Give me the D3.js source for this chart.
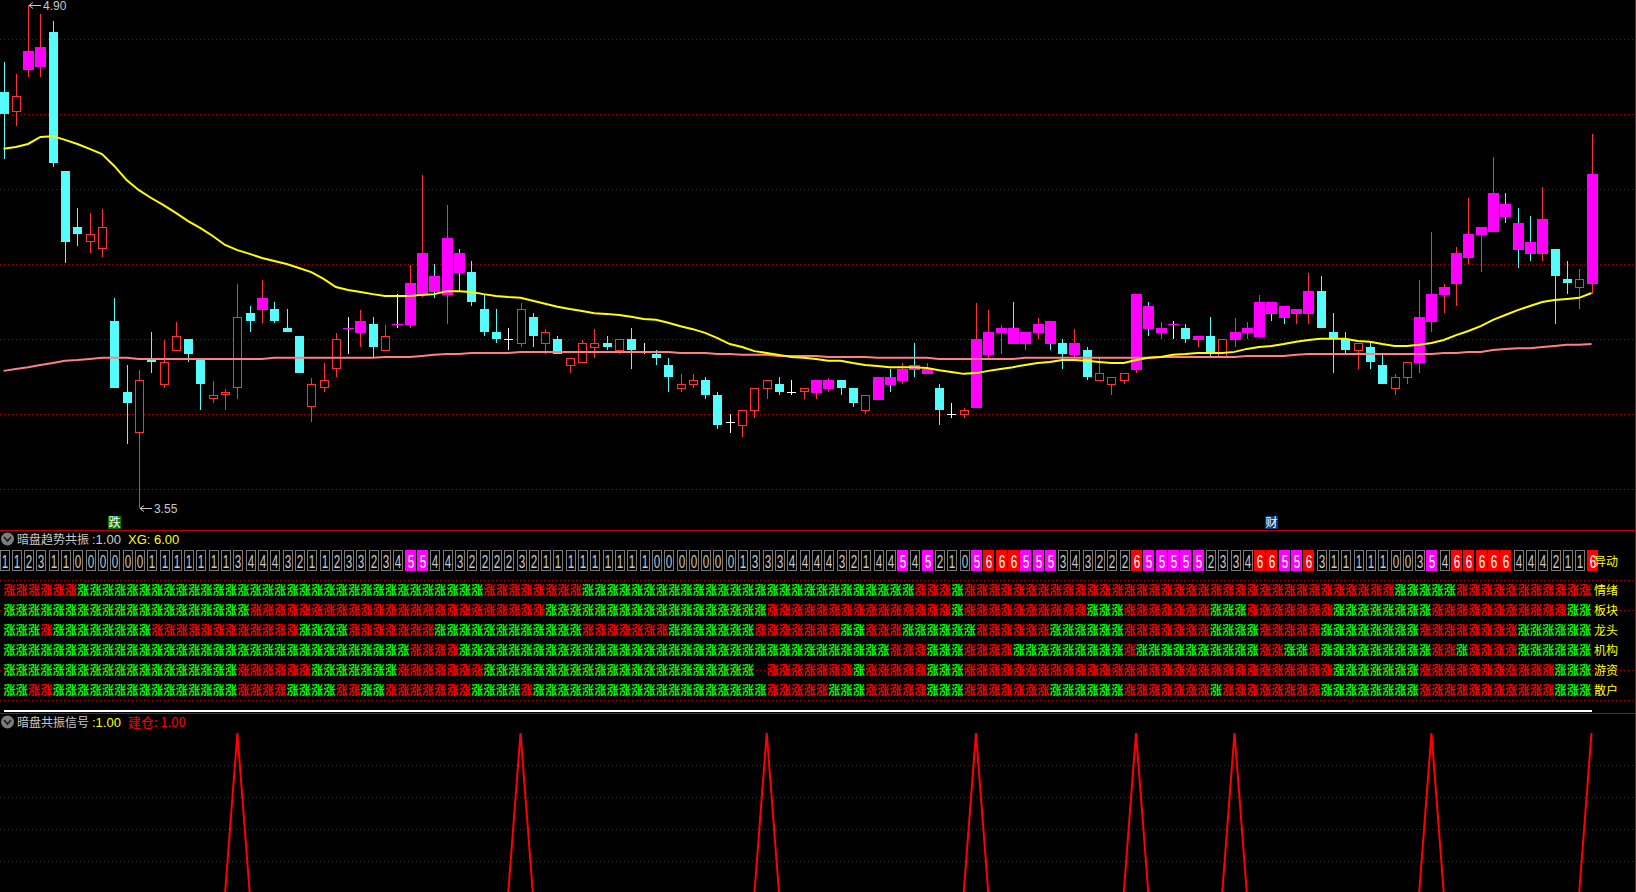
<!DOCTYPE html>
<html>
<head>
<meta charset="utf-8">
<script src="https://cdn.jsdelivr.net/npm/d3@7"></script>
<style>
html, body { margin: 0; padding: 0; background: #000; overflow: hidden; }
svg { display: block; }
</style>
</head>
<body>
<script>
const W = 1636;
const H = 892;

// * PRICE DATA (one bar per day)
const open = [4.666,4.614,4.726,4.734,4.827,4.454,4.304,4.263,4.244,4.052, 3.861,3.751,3.950,3.881,3.972,4.004,3.947,3.842,3.852,3.871, 4.073,4.082,4.084,4.033,4.012,3.820,3.871,3.922,4.032,4.020, 4.044,3.972,4.044,4.041,4.122,4.173,4.122,4.234,4.183,4.084, 4.022,4.004,3.991,4.063,3.991,4.004,3.932,3.940,3.980,3.993, 3.971,4.004,3.971,3.963,3.934,3.870,3.881,3.894,3.853,3.781, 3.771,3.811,3.870,3.883,3.861,3.860,3.859,3.869,3.894,3.872, 3.811,3.840,3.902,3.891,3.934,3.910,3.872,3.802,3.800,3.818, 3.961,4.020,4.033,3.990,4.020,4.052,3.993,3.961,3.974,3.891, 3.880,3.891,3.920,4.092,4.020,4.044,4.033,4.001,4.012,3.952, 4.001,4.020,4.009,4.103,4.092,4.071,4.071,4.132,4.022,4.004, 3.972,3.982,3.934,3.870,3.900,3.939,4.049,4.122,4.151,4.221, 4.283,4.291,4.366,4.315,4.264,4.232,4.245,4.165,4.141,4.151];
const high = [4.747,4.715,4.900,4.876,4.857,4.454,4.355,4.341,4.352,4.114, 3.934,3.920,4.022,4.002,4.049,4.004,3.947,3.891,3.869,4.151, 4.092,4.162,4.103,4.084,4.012,3.899,3.939,4.020,4.063,4.081, 4.063,4.041,4.124,4.202,4.444,4.205,4.363,4.245,4.213,4.124, 4.084,4.033,4.100,4.073,4.030,4.012,3.953,4.001,4.030,4.012, 4.004,4.033,3.993,3.974,3.953,3.910,3.910,3.902,3.861,3.802, 3.813,3.872,3.894,3.902,3.894,3.872,3.894,3.899,3.894,3.872, 3.853,3.902,3.923,3.939,3.993,3.939,3.883,3.832,3.818,4.100, 4.081,4.041,4.103,4.022,4.060,4.052,4.004,4.030,3.982,3.953, 3.902,3.912,4.124,4.103,4.049,4.052,4.044,4.012,4.063,4.004, 4.060,4.049,4.122,4.103,4.092,4.084,4.181,4.173,4.073,4.022, 3.993,3.996,3.961,3.910,3.942,4.162,4.291,4.151,4.250,4.382, 4.304,4.492,4.395,4.355,4.334,4.412,4.245,4.213,4.191,4.554];
const low = [4.487,4.576,4.708,4.708,4.466,4.207,4.254,4.235,4.224,3.873, 3.723,3.550,3.913,3.873,3.972,3.943,3.814,3.833,3.814,3.843, 4.023,4.046,4.046,4.023,3.913,3.782,3.862,3.902,3.964,3.983, 3.956,3.972,4.034,4.034,4.117,4.114,4.044,4.132,4.092,4.012, 3.993,3.974,3.982,3.982,3.963,3.963,3.912,3.940,3.953,3.974, 3.963,3.923,3.963,3.934,3.861,3.861,3.872,3.843,3.762,3.751, 3.741,3.792,3.843,3.853,3.853,3.843,3.843,3.861,3.853,3.822, 3.803,3.840,3.861,3.883,3.902,3.910,3.773,3.792,3.792,3.818, 3.953,3.963,3.990,3.974,4.004,3.974,3.923,3.947,3.894,3.891, 3.853,3.883,3.912,4.012,4.004,4.004,3.993,3.982,3.958,3.952, 3.982,4.004,4.009,4.052,4.044,4.044,4.044,4.033,3.912,3.963, 3.923,3.923,3.883,3.853,3.883,3.912,4.022,4.073,4.092,4.205, 4.183,4.291,4.315,4.194,4.213,4.213,4.044,4.124,4.084,4.124];
const close = [4.608,4.655,4.776,4.787,4.477,4.265,4.286,4.285,4.303,3.873, 3.833,3.894,3.943,3.942,4.011,3.964,3.884,3.853,3.861,4.062, 4.053,4.114,4.053,4.023,3.913,3.882,3.893,4.003,4.032,4.052, 3.983,4.011,4.044,4.154,4.234,4.131,4.275,4.181,4.103,4.022, 4.004,4.004,4.084,4.012,4.022,3.963,3.953,3.993,3.993,3.982, 4.004,3.974,3.971,3.953,3.902,3.883,3.894,3.853,3.773,3.781, 3.813,3.872,3.894,3.861,3.861,3.872,3.894,3.894,3.872,3.832, 3.853,3.902,3.880,3.923,3.920,3.923,3.813,3.802,3.813,4.004, 4.022,4.033,3.990,4.022,4.044,3.990,3.963,3.993,3.902,3.912, 3.902,3.912,4.124,4.030,4.033,4.044,4.004,4.012,3.967,4.004, 4.022,4.033,4.103,4.071,4.060,4.084,4.132,4.033,4.004,3.974, 3.993,3.942,3.883,3.902,3.942,4.063,4.124,4.143,4.234,4.285, 4.304,4.395,4.331,4.242,4.232,4.326,4.173,4.154,4.165,4.446];

// * MOVING AVERAGES
const maShort = [4.514,4.519,4.527,4.546,4.548,4.538,4.527,4.514,4.500,4.468, 4.430,4.403,4.382,4.363,4.342,4.320,4.301,4.280,4.256,4.242, 4.232,4.221,4.213,4.205,4.194,4.183,4.165,4.143,4.135,4.130, 4.124,4.119,4.119,4.119,4.122,4.124,4.132,4.132,4.130,4.124, 4.119,4.116,4.114,4.106,4.098,4.090,4.084,4.079,4.073,4.071, 4.068,4.063,4.057,4.055,4.047,4.038,4.030,4.020,4.006,3.990, 3.982,3.971,3.966,3.961,3.955,3.953,3.950,3.945,3.945,3.939, 3.934,3.931,3.928,3.928,3.928,3.926,3.920,3.915,3.910,3.912, 3.918,3.923,3.928,3.934,3.939,3.942,3.947,3.947,3.945,3.942, 3.939,3.939,3.947,3.953,3.955,3.961,3.963,3.966,3.966,3.966, 3.969,3.977,3.982,3.985,3.990,3.996,4.001,4.004,4.004,4.004, 3.998,3.996,3.990,3.985,3.985,3.988,3.993,4.001,4.014,4.025, 4.038,4.055,4.068,4.081,4.092,4.103,4.108,4.111,4.114,4.127];
const maLong = [3.918,3.923,3.928,3.934,3.939,3.945,3.947,3.950,3.953,3.953, 3.953,3.950,3.950,3.950,3.950,3.950,3.950,3.950,3.950,3.950, 3.950,3.950,3.953,3.953,3.953,3.953,3.953,3.953,3.953,3.953, 3.953,3.955,3.955,3.955,3.958,3.961,3.963,3.963,3.966,3.966, 3.966,3.966,3.969,3.969,3.969,3.969,3.969,3.969,3.969,3.969, 3.969,3.969,3.969,3.969,3.969,3.966,3.966,3.966,3.963,3.963, 3.961,3.961,3.961,3.958,3.958,3.958,3.958,3.955,3.955,3.955, 3.955,3.953,3.953,3.953,3.953,3.953,3.950,3.950,3.950,3.950, 3.950,3.950,3.950,3.953,3.953,3.953,3.953,3.953,3.953,3.953, 3.953,3.953,3.953,3.953,3.955,3.955,3.955,3.955,3.955,3.955, 3.955,3.958,3.958,3.958,3.958,3.961,3.963,3.963,3.963,3.963, 3.963,3.963,3.963,3.963,3.963,3.963,3.963,3.966,3.966,3.969, 3.969,3.974,3.977,3.979,3.979,3.982,3.985,3.988,3.988,3.990];

// bars painted magenta by the indicator
const hotBars = [2,3,21,28,29,32,33,34,35,36,37,66,67,71,72,73,74,75,79,80,81,82,83,84,85,87,92,93,94,95,97,100,101,102,103,104,105,106,115,116,117,118,119,120,121,122,123,124,125,129];

// price grid and extreme labels
const priceGrid = [4.808, 4.607, 4.405, 4.204, 4.003, 3.801, 3.600];
const markBars = [9, 103];
const markText = ["跌", "财"];
const markFill = ["#007d00", "#0b3b80"];

// * PANEL 2 DATA
const counts = [1,1,2,3,1,1,0,0,0,0, 0,0,1,1,1,1,1,1,1,3, 4,4,4,3,2,1,1,2,3,3, 2,3,4,5,5,4,4,3,2,2, 2,2,3,2,1,1,1,1,1,1, 1,1,1,0,0,0,0,0,0,0, 1,3,3,3,4,4,4,4,3,2, 1,4,4,5,4,5,2,1,0,5, 6,6,6,5,5,5,3,4,3,2, 2,2,6,5,5,5,5,5,2,3, 3,4,6,6,5,5,6,3,1,1, 1,1,1,0,0,3,5,4,6,6, 6,6,6,4,4,4,2,1,1,6];
const rowNames = ["情绪", "板块", "龙头", "机构", "游资", "散户"];
// r = red 涨, g = green 涨, - = nothing drawn
const rowMood   = "rrrrrrgggg gggggggggg gggggggggg gggggggggr rrrrrrrggg gggggggggg gggggggggg ggggrrrgrr rrrrrrrrrr rrrrrrrrrr rrrrrrrrrr rrrgggggrr rrrrrrrrr-";
const rowSector = "gggggggggg gggggggggg rrrrrrrrrr rrrrrrrrrr rrrrgggggg gggggggggg ggrrrrrrrr rrrrrrrgrr rrrrrrrrgg grrrrrrrgg grrrrrrrgg ggggggrrrr rrrrrrrgg-";
const rowLeader = "gggrgggggg ggrrrrrrrr rrrrggggrr rrrrrggggg gggggggrrr rrrrgggggg grrrrrrrgg rrrggggggr rrrrrggggg grrrrrrrgg ggrrrrrggg gggggrrrrr rrrgggggg-";
const rowInst   = "gggggggggg gggggggggg gggggggggg gggrrrrggg gggggggggg gggggggggg gggggggggg ggrrrgggrr rrgggggggg grgggggggg ggrrggrggg ggggggrrgr rrrgggggg-";
const rowHot    = "gggggggggg gggggggggr rrrrrggggg ggrrrrrrrg gggggggggg gggggggggg g-rrrrrrrg rrrrrgggrr rrrrrrrrrr rrrrrrrrrr rrrrrrrrgg gggggrrrrr rrrrrrggg-";
const rowRetail = "ggrrgggggg gggggggggr rrrggggrrg grrrrrrrgg ggrggggggg gggggggggg ggrrrrrggg rrrrrgggrr rrrrrggggg grrrrrrrgr rrrrrrrggg gggggrrrrr rrrrrrggg-";

// * PANEL 3 DATA
const signalBars = [19, 42, 62, 79, 92, 100, 116, 129];

const RED = "#ff3232";
const CYAN = "#54fcfc";
const MAG = "#ff00ff";
const GRID = "#a80000";
const LINE = "#c00000";
const CJK = "'Noto Sans CJK SC', sans-serif";
const LAT = "'Liberation Sans', Arial, sans-serif";

const n = close.length;

// * SVG BASE SETUP
const svg = d3.select("body").append("svg")
	.attr("width", W)
	.attr("height", H)
	.style("background", "#000");

// * SCALES
const x = d3.scaleLinear().domain([0, n - 1]).range([3.5, 1591.5]);
const y = d3.scaleLinear().domain([3.55, 4.90]).range([508, 5]);
const ySig = d3.scaleLinear().domain([0, 1]).range([893, 733]);

function hline(g, yy, x1, x2, color, dash, width) {
	g.append("line")
		.attr("x1", x1).attr("x2", x2)
		.attr("y1", yy).attr("y2", yy)
		.attr("stroke", color)
		.attr("stroke-width", width || 1)
		.attr("stroke-dasharray", dash || null);
}

const grid = svg.append("g").attr("shape-rendering", "crispEdges");
priceGrid.forEach((p) => hline(grid, Math.round(y(p)) + 0.5, 0, W, GRID, "1,3"));

// * CANDLES
const gC = svg.append("g").attr("shape-rendering", "crispEdges");
d3.range(n).forEach((i) => {
	const o = open[i], c = close[i];
	const r = Math.round(x(i));
	const cx = r + 0.5;
	const dir = c > o ? 1 : c < o ? -1 : 0;
	const hot = hotBars.includes(i);
	const wickCol = dir > 0 ? RED : dir < 0 ? CYAN : "#ffffff";
	gC.append("line")
		.attr("x1", cx).attr("x2", cx)
		.attr("y1", Math.round(y(high[i]))).attr("y2", Math.round(y(low[i])))
		.attr("stroke", wickCol);
	const top = Math.round(y(Math.max(o, c)));
	const bot = Math.round(y(Math.min(o, c)));
	if (dir === 0) {
		const hw = hot ? 5.5 : 4.5;
		hline(gC, top + 0.5, cx - hw, cx + hw, hot ? MAG : "#ffffff");
	} else if (hot) {
		gC.append("rect").attr("x", r - 5).attr("y", top)
			.attr("width", 11).attr("height", Math.max(bot - top, 1))
			.attr("fill", MAG);
	} else if (dir < 0) {
		gC.append("rect").attr("x", r - 4).attr("y", top)
			.attr("width", 9).attr("height", Math.max(bot - top, 1))
			.attr("fill", CYAN);
	} else {
		gC.append("rect").attr("x", r - 3.5).attr("y", top + 0.5)
			.attr("width", 8).attr("height", Math.max(bot - top - 1, 1))
			.attr("fill", "#000").attr("stroke", RED);
	}
});

// * MOVING AVERAGES
const maLine = d3.line().x((d, i) => x(i)).y((d) => y(d));
svg.append("path").datum(maLong).attr("d", maLine)
	.attr("fill", "none").attr("stroke", "#ff8080").attr("stroke-width", 2);
svg.append("path").datum(maShort).attr("d", maLine)
	.attr("fill", "none").attr("stroke", "#ffff00").attr("stroke-width", 2);

// * HIGH / LOW LABELS
const hiIdx = d3.maxIndex(high), loIdx = d3.minIndex(low);
function extremeLabel(idx, val) {
	const px = Math.round(x(idx)) + 1, py = Math.round(y(val));
	svg.append("path")
		.attr("d", `M${px + 12},${py + 0.5} H${px} M${px + 4},${py - 2.5} L${px},${py + 0.5} L${px + 4},${py + 3.5}`)
		.attr("stroke", "#c8c8c8").attr("fill", "none");
	svg.append("text").attr("x", px + 14).attr("y", py + 5)
		.attr("fill", "#c8c8c8").attr("font-family", LAT).attr("font-size", 12)
		.text(val.toFixed(2));
}
extremeLabel(hiIdx, high[hiIdx]);
extremeLabel(loIdx, low[loIdx]);

markBars.forEach((b, j) => {
	const r = Math.round(x(b));
	svg.append("rect").attr("x", r - 6).attr("y", 516).attr("width", 13).attr("height", 13)
		.attr("fill", markFill[j]);
	svg.append("text").attr("x", r + 0.5).attr("y", 527).attr("text-anchor", "middle")
		.attr("fill", "#ffffff").attr("font-family", CJK).attr("font-size", 12)
		.text(markText[j]);
});

// * PANEL SEPARATORS
const sep = svg.append("g").attr("shape-rendering", "crispEdges");
hline(sep, 530.5, 0, W, LINE);
hline(sep, 713.5, 0, W, LINE);
sep.append("line").attr("x1", W - 0.5).attr("x2", W - 0.5).attr("y1", 0).attr("y2", H)
	.attr("stroke", LINE);

function panelTitle(yy, name, parts) {
	svg.append("circle").attr("cx", 7.5).attr("cy", yy).attr("r", 6.5).attr("fill", "#7c7c7c");
	svg.append("path").attr("d", `M4,${yy - 2} L7.5,${yy + 2} L11,${yy - 2}`)
		.attr("stroke", "#1a1a1a").attr("stroke-width", 1.6).attr("fill", "none");
	svg.append("text").attr("x", 17).attr("y", yy + 5)
		.attr("fill", "#c8c8c8").attr("font-family", CJK).attr("font-size", 12)
		.text(name);
	parts.forEach((p) => {
		svg.append("text").attr("x", p[0]).attr("y", yy + 5)
			.attr("fill", p[2]).attr("font-family", p[3] || LAT).attr("font-size", 13)
			.text(p[1]);
	});
}

// * PANEL 2
panelTitle(539, "暗盘趋势共振", [[92, ":1.00", "#d0d0d0"], [128, "XG: 6.00", "#ffff00"]]);

const g2 = svg.append("g");
[580, 610, 670, 700].forEach((yy) => hline(g2, yy + 0.5, 0, W, GRID, "1,3"));

const gBox = g2.append("g").attr("shape-rendering", "crispEdges");
counts.forEach((v, i) => {
	const r = Math.round(x(i));
	if (v >= 5) {
		gBox.append("rect").attr("x", r - 5).attr("y", 550).attr("width", 11).attr("height", 21)
			.attr("fill", v === 6 ? "#ff0000" : MAG);
	} else {
		gBox.append("rect").attr("x", r - 3.5).attr("y", 550.5).attr("width", 9).attr("height", 20)
			.attr("fill", "none").attr("stroke", "#7a7a7a");
	}
	g2.append("text")
		.attr("transform", `translate(${r + 1},568) scale(0.65,1)`)
		.attr("text-anchor", "middle")
		.attr("fill", v >= 5 ? "#ffffff" : "#c8c8c8")
		.attr("font-family", LAT).attr("font-size", 18)
		.text(v);
});

const rows = [rowMood, rowSector, rowLeader, rowInst, rowHot, rowRetail].map((s) => s.replace(/ /g, ""));
rows.forEach((s, j) => {
	const yy = 590 + j * 20;
	s.split("").forEach((ch, i) => {
		if (ch === "-") return;
		g2.append("text").attr("x", x(i)).attr("y", yy + 5)
			.attr("fill", ch === "r" ? "#ff0000" : "#00ff00")
			.attr("font-family", CJK).attr("font-size", 12).attr("font-weight", 700)
			.text("涨");
	});
});

const lblX = x(n - 1) + 2.5;
["异动"].concat(rowNames).forEach((t, j) => {
	const yy = j === 0 ? 561 : 590 + (j - 1) * 20;
	g2.append("text").attr("x", lblX).attr("y", yy + 5)
		.attr("fill", "#ffff00").attr("font-family", CJK).attr("font-size", 12)
		.text(t);
});

hline(svg.append("g").attr("shape-rendering", "crispEdges"), 711, x(0), x(n - 1), "#ffffff", null, 2);

// * PANEL 3
const g3 = svg.append("g").attr("shape-rendering", "crispEdges");
[0.8, 0.6, 0.4, 0.2].forEach((v) => hline(g3, Math.round(ySig(v)) + 0.5, 0, W, GRID, "1,3"));
panelTitle(722, "暗盘共振信号", [[92, ":1.00", "#ffff00"], [128, "建仓: 1.00", "#ff0000", "'Noto Sans CJK SC', 'Liberation Sans', sans-serif"]]);

const sigVals = d3.range(n).map((i) => (signalBars.includes(i) ? 1 : 0));
svg.append("path").datum(sigVals)
	.attr("d", d3.line().x((d, i) => x(i)).y((d) => ySig(d)))
	.attr("fill", "none").attr("stroke", "#ff0000").attr("stroke-width", 2);
</script>
</body>
</html>
